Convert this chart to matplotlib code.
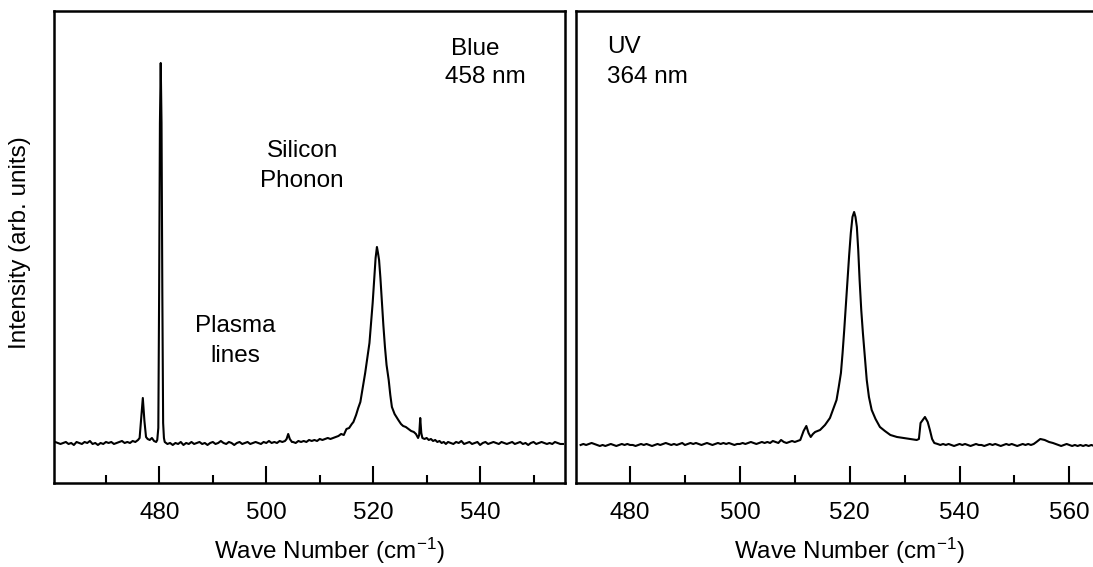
"""Raman spectra of silicon: blue (458 nm) vs UV (364 nm) excitation, two panels -> out.png."""

import matplotlib
matplotlib.use("Agg")
import matplotlib.pyplot as plt
from matplotlib.ticker import MultipleLocator

plt.rcParams["font.family"] = ["Liberation Sans", "DejaVu Sans"]
plt.rcParams["mathtext.fontset"] = "custom"
plt.rcParams["mathtext.rm"] = "Liberation Sans"
plt.rcParams["mathtext.it"] = "Liberation Sans:italic"

# ---- blue (458 nm) spectrum (baseline = 0, arb. units)
blue_wn = [
    460.5, 461.0, 461.5, 462.0, 462.5, 463.0, 463.5, 464.0, 464.5, 465.0,
    465.5, 466.0, 466.5, 467.0, 467.5, 468.0, 468.5, 469.0, 469.5, 470.0,
    470.5, 471.0, 471.5, 472.0, 472.5, 473.0, 473.5, 474.0, 474.5, 475.0,
    475.5, 476.0, 476.3, 476.6, 476.9, 477.2, 477.5, 477.8, 478.2, 478.6,
    479.0, 479.4, 479.6, 479.8, 479.95, 480.1, 480.25, 480.4, 480.55, 480.7,
    480.85, 481.0, 481.5, 482.0, 482.5, 483.0, 483.5, 484.0, 484.5, 485.0,
    485.5, 486.0, 486.5, 487.0, 487.5, 488.0, 488.5, 489.0, 489.5, 490.0,
    490.5, 491.0, 491.5, 492.0, 492.5, 493.0, 493.5, 494.0, 494.5, 495.0,
    495.5, 496.0, 496.5, 497.0, 497.5, 498.0, 498.5, 499.0, 499.5, 500.0,
    500.5, 501.0, 501.5, 502.0, 502.5, 503.0, 503.5, 503.8, 504.1, 504.4,
    504.8, 505.0, 505.5, 506.0, 506.5, 507.0, 507.5, 508.0, 508.5, 509.0,
    509.5, 510.0, 510.5, 511.0, 511.5, 512.0, 512.5, 513.0, 513.5, 514.0,
    514.5, 515.0, 515.5, 516.0, 516.3, 516.8, 517.2, 517.6, 518.0, 518.5,
    518.9, 519.3, 519.6, 519.9, 520.2, 520.45, 520.7, 520.9, 521.1, 521.35,
    521.6, 521.9, 522.2, 522.5, 522.9, 523.2, 523.5, 524.0, 524.7, 525.2,
    525.6, 526.1, 526.6, 527.1, 527.6, 528.0, 528.4, 528.6, 528.8, 529.0,
    529.2, 529.6, 530.0, 530.4, 530.8, 531.2, 531.6, 532.0, 532.4, 532.8,
    533.2, 533.6, 534.0, 534.5, 535.0, 535.5, 536.0, 536.5, 537.0, 537.5,
    538.0, 538.5, 539.0, 539.5, 540.0, 540.5, 541.0, 541.5, 542.0, 542.5,
    543.0, 543.5, 544.0, 544.5, 545.0, 545.5, 546.0, 546.5, 547.0, 547.5,
    548.0, 548.5, 549.0, 549.5, 550.0, 550.5, 551.0, 551.5, 552.0, 552.5,
    553.0, 553.5, 554.0, 554.5, 555.0, 555.5,
]
blue_int = [
    1, 0, -1, 0, 1, -1, 0, -2, 1, 0,
    -1, 1, 0, 2, -1, 0, -2, 0, -1, 1,
    0, 1, -1, 0, 1, 2, 0, 1, 0, 2,
    1, 3, 5, 25, 45, 22, 6, 4, 3, 5,
    2, 1, 3, 15, 150, 320, 380, 320, 150, 20,
    5, 1, -1, 0, -2, 0, -1, 1, -2, 0,
    -1, 1, -1, 0, 1, -1, 0, -2, 0, 1,
    -1, 0, 2, 0, -1, 1, 0, -2, 0, 1,
    -1, 0, 1, -1, 0, 1, 0, -1, 1, 0,
    2, 0, 1, 0, 2, 1, 2, 4, 9, 4,
    1, 1, 0, 2, 1, 2, 1, 3, 2, 3,
    2, 4, 3, 4, 5, 4, 5, 6, 7, 9,
    8, 14, 15, 19, 21, 28, 35, 41, 54, 70,
    85, 100, 120, 140, 165, 185, 196, 190, 183, 165,
    143, 118, 96, 78, 63, 48, 36, 29, 23, 19,
    17, 16, 14, 12, 11, 9, 5, 8, 25, 10,
    5, 4, 5, 3, 4, 2, 3, 1, 2, 0,
    1, -1, 1, 0, -1, 1, 0, 2, -1, 0,
    1, -1, 0, 1, -2, 0, 1, -1, 0, 1,
    0, -1, 1, 0, -1, 0, 1, -1, 0, 1,
    -1, 0, -2, 0, 1, -1, 0, 1, 0, -1,
    0, -1, 1, 0, -1, -1,
]

# ---- UV (364 nm) spectrum
uv_wn = [
    471.0, 471.5, 472.0, 472.5, 473.0, 473.5, 474.0, 474.5, 475.0, 475.5,
    476.0, 476.5, 477.0, 477.5, 478.0, 478.5, 479.0, 479.5, 480.0, 480.5,
    481.0, 481.5, 482.0, 482.5, 483.0, 483.5, 484.0, 484.5, 485.0, 485.5,
    486.0, 486.5, 487.0, 487.5, 488.0, 488.5, 489.0, 489.5, 490.0, 490.5,
    491.0, 491.5, 492.0, 492.5, 493.0, 493.5, 494.0, 494.5, 495.0, 495.5,
    496.0, 496.5, 497.0, 497.5, 498.0, 498.5, 499.0, 499.5, 500.0, 500.5,
    501.0, 501.5, 502.0, 502.5, 503.0, 503.5, 504.0, 504.5, 505.0, 505.5,
    506.0, 506.5, 507.0, 507.5, 508.0, 508.5, 509.0, 509.5, 510.0, 510.5,
    511.0, 511.6, 512.1, 512.5, 512.9, 513.3, 513.7, 514.6, 515.5, 516.4,
    517.0, 517.6, 518.0, 518.4, 518.7, 519.0, 519.3, 519.6, 519.9, 520.2,
    520.5, 520.8, 521.05, 521.3, 521.55, 521.8, 522.1, 522.4, 522.75, 523.1,
    523.5, 524.0, 524.7, 525.5, 526.4, 527.4, 528.6, 529.8, 531.0, 532.2,
    532.6, 532.9, 533.3, 533.7, 534.2, 534.6, 535.0, 535.4, 536.0, 536.5,
    537.0, 537.5, 538.0, 538.5, 539.0, 539.5, 540.0, 540.5, 541.0, 541.5,
    542.0, 542.5, 543.0, 543.5, 544.0, 544.5, 545.0, 545.5, 546.0, 546.5,
    547.0, 547.5, 548.0, 548.5, 549.0, 549.5, 550.0, 550.5, 551.0, 551.5,
    552.0, 552.5, 553.0, 553.5, 554.0, 554.7, 555.5, 556.3, 557.0, 557.5,
    558.0, 558.5, 559.0, 559.5, 560.0, 560.5, 561.0, 561.5, 562.0, 562.5,
    563.0, 563.5, 564.0, 564.5,
]
uv_int = [
    0, 1, 0, 1, 2, 1, 0, -1, 0, -1,
    0, 1, 0, -1, 0, 1, 0, 1, 0, 0,
    -1, 0, 1, 0, 1, 0, -1, 0, 1, 0,
    1, 2, 1, 0, 1, 0, 1, 2, 0, 1,
    2, 1, 2, 1, 0, 1, 2, 1, 0, 1,
    2, 1, 2, 1, 2, 1, 0, 1, 1, 2,
    1, 2, 3, 2, 1, 2, 3, 2, 3, 2,
    4, 3, 2, 5, 3, 2, 3, 4, 3, 4,
    5, 14, 19, 12, 8, 11, 13, 15, 20, 27,
    36, 45, 58, 72, 92, 115, 140, 165, 190, 212,
    228, 233, 228, 218, 195, 165, 135, 112, 88, 65,
    48, 35, 26, 18, 14, 10, 8, 7, 6, 5,
    6, 22, 25, 28, 23, 15, 6, 2, 1, 0,
    1, 0, 1, 0, -1, 0, 1, 0, 1, 0,
    -1, 0, 1, 0, 0, -1, 0, 1, 0, 1,
    0, -1, 0, 1, 0, 1, 0, -1, 0, 1,
    0, 1, 0, 1, 3, 6, 5, 3, 2, 1,
    0, -1, 0, 1, 0, -1, 0, -1, 0, -1,
    0, -1, 0, -1,
]

blue_ticks = [480, 500, 520, 540]
uv_ticks = [480, 500, 520, 540, 560]

FS = 17.5


def style(ax, xlim, ylim, ticks):
    ax.set_xlim(*xlim)
    ax.set_ylim(*ylim)
    ax.set_yticks([])
    ax.set_xticks(ticks)
    ax.xaxis.set_minor_locator(MultipleLocator(10))
    ax.tick_params(axis="x", which="both", direction="in", width=1.5,
                   top=False, labelsize=FS, pad=13)
    ax.tick_params(axis="x", which="major", length=12)
    ax.tick_params(axis="x", which="minor", length=6)
    for s in ax.spines.values():
        s.set_linewidth(1.8)
    ax.set_xlabel("Wave Number (cm$^{-1}$)", fontsize=FS)


def main():
    fig = plt.figure(figsize=(10.93, 5.67), dpi=100)
    ax1 = fig.add_axes([0.0490, 0.1473, 0.4680, 0.8333])
    ax2 = fig.add_axes([0.5267, 0.1473, 0.4733, 0.8333])

    ax1.plot(blue_wn, blue_int, color="black", lw=1.5)
    style(ax1, (460.2, 555.9), (-40.5, 432), blue_ticks)
    ax1.xaxis.set_label_coords(0.54, -0.11)
    ax1.set_ylabel("Intensity (arb. units)", fontsize=FS)
    ax1.yaxis.set_label_coords(-0.045, 0.51)
    ax1.text(539.1, 394, "Blue", fontsize=FS, ha="center", va="center")
    ax1.text(540.9, 366, "458 nm", fontsize=FS, ha="center", va="center")
    ax1.text(506.7, 277, "Silicon\nPhonon", fontsize=FS, ha="center", va="center",
             linespacing=1.5)
    ax1.text(494.2, 102, "Plasma\nlines", fontsize=FS, ha="center", va="center",
             linespacing=1.45)

    ax2.plot(uv_wn, uv_int, color="black", lw=1.5)
    style(ax2, (470.1, 564.3), (-38.5, 434), uv_ticks)
    ax2.spines["right"].set_visible(False)
    ax2.xaxis.set_label_coords(0.53, -0.11)
    ax2.text(475.8, 383, "UV\n364 nm", fontsize=FS, ha="left", va="center",
             linespacing=1.45)

    fig.savefig("out.png", dpi=100)


if __name__ == "__main__":
    main()
